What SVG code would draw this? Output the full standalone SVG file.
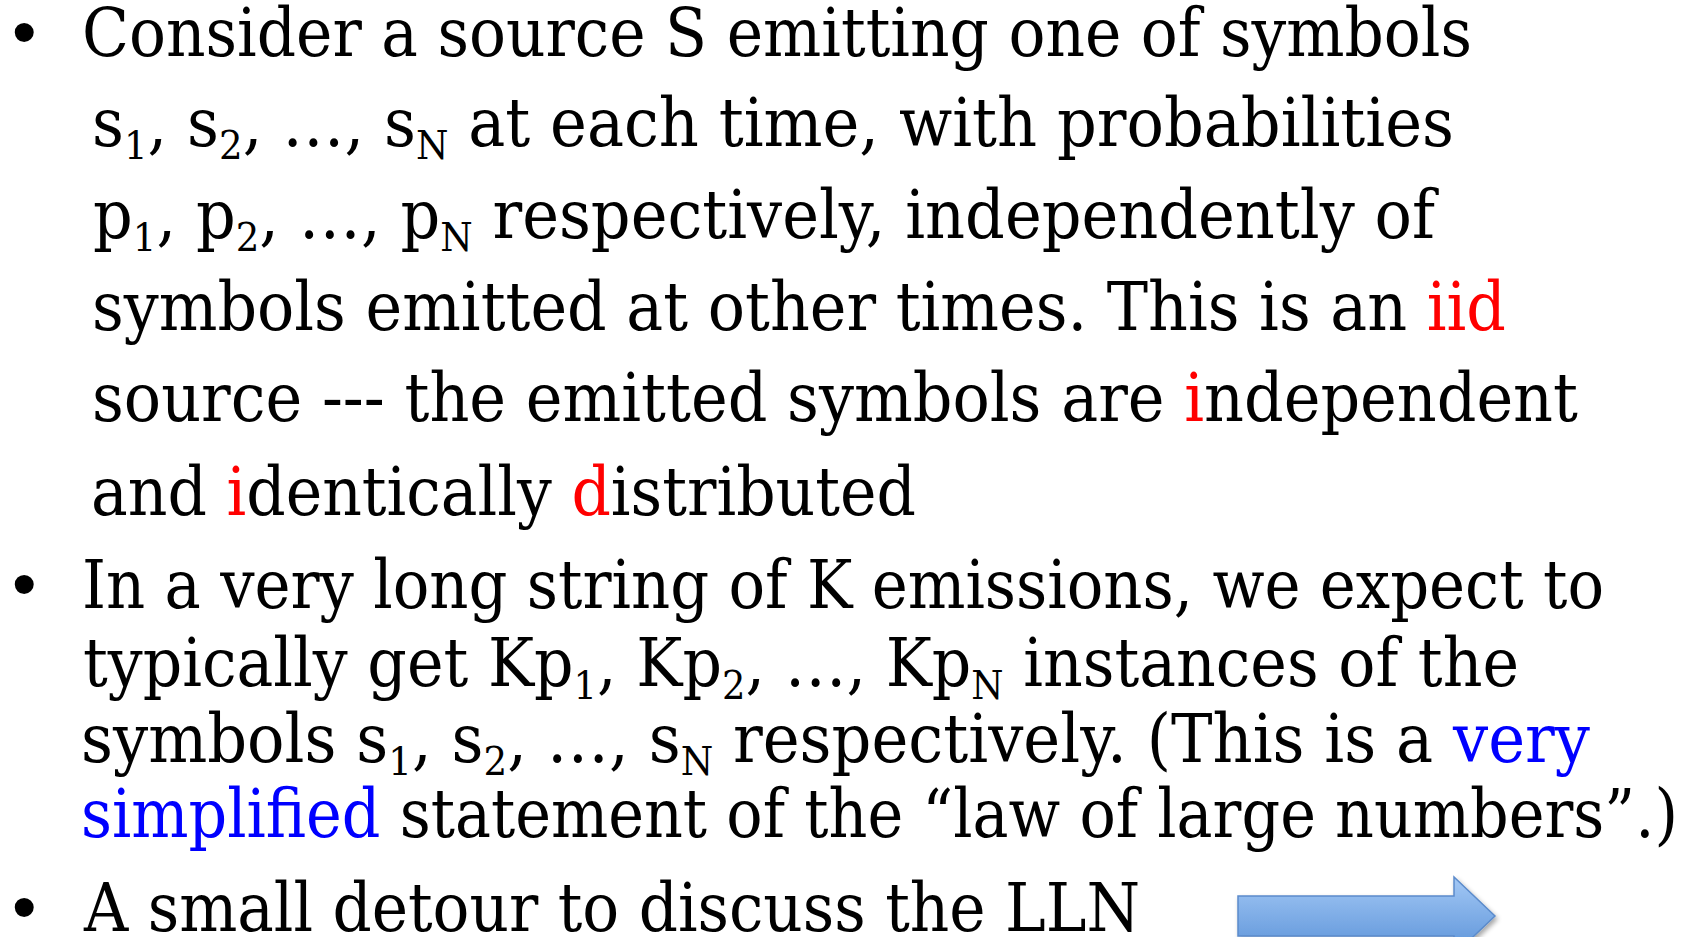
<svg xmlns="http://www.w3.org/2000/svg" width="1694" height="937" viewBox="0 0 1694 937">
<style>
.t{font-family:"DejaVu Serif","Liberation Serif",serif;font-size:67px;fill:#000}
.b{font-family:"Liberation Sans",Arial,sans-serif;font-size:70px;fill:#000}
.s{font-size:40px}
.r{fill:#FF0000}
.u{fill:#0000FF}
</style>
<defs>
<linearGradient id="ag" x1="0" y1="0" x2="0" y2="1">
<stop offset="0" stop-color="#A3C8F5"/>
<stop offset="1" stop-color="#5A92D8"/>
</linearGradient>
<filter id="sh" x="-10%" y="-20%" width="130%" height="150%">
<feGaussianBlur in="SourceAlpha" stdDeviation="2.5"/>
<feOffset dx="2" dy="3" result="o"/>
<feComponentTransfer><feFuncA type="linear" slope="0.35"/></feComponentTransfer>
<feMerge><feMergeNode/><feMergeNode in="SourceGraphic"/></feMerge>
</filter>
</defs>
<rect width="1694" height="937" fill="#fff"/>
<g id="bullets">
<text class="b" x="12" y="56">•</text>
<text class="b" x="12" y="608">•</text>
<text class="b" x="12" y="931">•</text>
</g>
<g id="para1">
<text class="t" x="82" y="56" textLength="1390" lengthAdjust="spacingAndGlyphs">Consider a source S emitting one of symbols</text>
<text class="t" x="92" y="146" textLength="1362" lengthAdjust="spacingAndGlyphs">s<tspan class="s" dy="13">1</tspan><tspan dy="-13">, s</tspan><tspan class="s" dy="13">2</tspan><tspan dy="-13">, …, s</tspan><tspan class="s" dy="13">N</tspan><tspan dy="-13"> at each time, with probabilities</tspan></text>
<text class="t" x="93" y="238" textLength="1342" lengthAdjust="spacingAndGlyphs">p<tspan class="s" dy="13">1</tspan><tspan dy="-13">, p</tspan><tspan class="s" dy="13">2</tspan><tspan dy="-13">, …, p</tspan><tspan class="s" dy="13">N</tspan><tspan dy="-13"> respectively, independently of</tspan></text>
<text class="t" x="92" y="330" textLength="1414" lengthAdjust="spacingAndGlyphs">symbols emitted at other times. This is an <tspan class="r">iid</tspan></text>
<text class="t" x="92" y="421" textLength="1486" lengthAdjust="spacingAndGlyphs">source --- the emitted symbols are <tspan class="r">i</tspan>ndependent</text>
<text class="t" x="91" y="515" textLength="825" lengthAdjust="spacingAndGlyphs">and <tspan class="r">i</tspan>dentically <tspan class="r">d</tspan>istributed</text>
</g>
<g id="para2">
<text class="t" x="82" y="608" textLength="1522" lengthAdjust="spacingAndGlyphs">In a very long string of K emissions, we expect to</text>
<text class="t" x="83" y="686" textLength="1436" lengthAdjust="spacingAndGlyphs">typically get Kp<tspan class="s" dy="13">1</tspan><tspan dy="-13">, Kp</tspan><tspan class="s" dy="13">2</tspan><tspan dy="-13">, …, Kp</tspan><tspan class="s" dy="13">N</tspan><tspan dy="-13"> instances of the</tspan></text>
<text class="t" x="81" y="762" textLength="1509" lengthAdjust="spacingAndGlyphs">symbols s<tspan class="s" dy="13">1</tspan><tspan dy="-13">, s</tspan><tspan class="s" dy="13">2</tspan><tspan dy="-13">, …, s</tspan><tspan class="s" dy="13">N</tspan><tspan dy="-13"> respectively. (This is a </tspan><tspan class="u">very</tspan></text>
<text class="t" x="81" y="837" textLength="1597" lengthAdjust="spacingAndGlyphs"><tspan class="u">simplified</tspan> statement of the “law of large numbers”.)</text>
</g>
<g id="para3">
<text class="t" x="84" y="931" textLength="1056" lengthAdjust="spacingAndGlyphs">A small detour to discuss the LLN</text>
</g>
<g id="arrow">
<path d="M1238,896 H1454 V877 L1495,916 L1454,955 V936 H1238 Z" fill="url(#ag)" stroke="#5B8BCB" stroke-width="1.5" filter="url(#sh)"/>
</g>
</svg>
